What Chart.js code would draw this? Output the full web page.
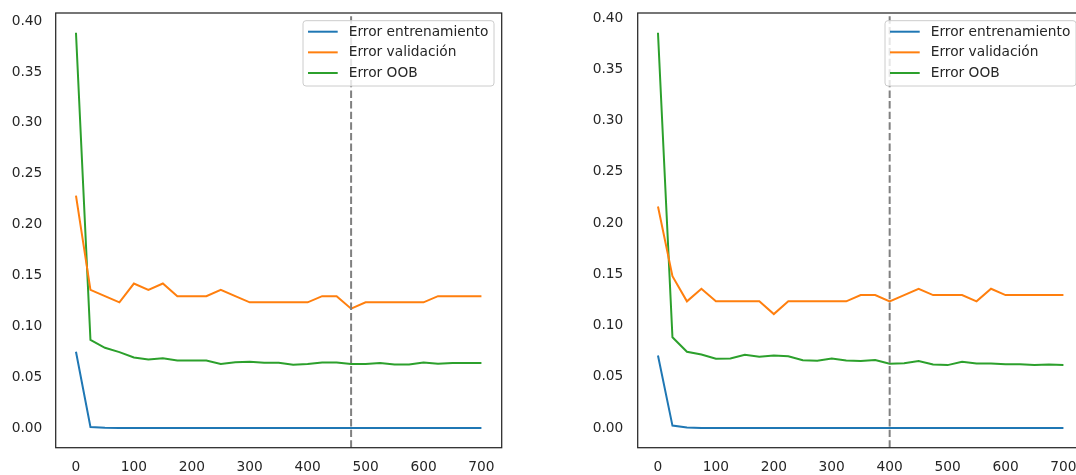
<!DOCTYPE html>
<html>
<head>
<meta charset="utf-8">
<script src="https://cdn.jsdelivr.net/npm/chart.js@4"></script>
<style>
  html, body { margin: 0; padding: 0; background: #fff; overflow: hidden; width: 1076px; height: 475px; }
  canvas { position: absolute; top: 0; }
  #chartLeft { left: 0; }
  #chartRight { left: 538px; }
</style>
</head>
<body>
<canvas id="chartLeft" width="538" height="475"></canvas>
<canvas id="chartRight" width="560" height="475"></canvas>
<script>
// numero de arboles
const nTrees = [0, 25, 50, 75, 100, 125, 150, 175, 200, 225, 250, 275, 300, 325, 350,
  375, 400, 425, 450, 475, 500, 525, 550, 575, 600, 625, 650, 675, 700];

const seriesNames = ['Error entrenamiento', 'Error validación', 'Error OOB'];

// grafico izquierdo
const trainLeft = [0.0749, 0.0010, 0.0003, 0, 0, 0, 0, 0, 0, 0, 0, 0, 0, 0, 0,
  0, 0, 0, 0, 0, 0, 0, 0, 0, 0, 0, 0, 0, 0];
const valLeft = [0.2284, 0.1358, 0.1296, 0.1235, 0.1420, 0.1358, 0.1420, 0.1296, 0.1296, 0.1296,
  0.1358, 0.1296, 0.1235, 0.1235, 0.1235, 0.1235, 0.1235, 0.1296, 0.1296, 0.1173,
  0.1235, 0.1235, 0.1235, 0.1235, 0.1235, 0.1296, 0.1296, 0.1296, 0.1296];
const oobLeft = [0.3886, 0.0867, 0.0788, 0.0746, 0.0693, 0.0672, 0.0685, 0.0664, 0.0664, 0.0664,
  0.0628, 0.0646, 0.0650, 0.0641, 0.0641, 0.0621, 0.0628, 0.0644, 0.0644, 0.0628,
  0.0628, 0.0638, 0.0625, 0.0625, 0.0644, 0.0631, 0.0638, 0.0638, 0.0638];
const cutLeft = 475;

// grafico derecho
const trainRight = [0.0707, 0.0023, 0.0005, 0, 0, 0, 0, 0, 0, 0, 0, 0, 0, 0, 0,
  0, 0, 0, 0, 0, 0, 0, 0, 0, 0, 0, 0, 0, 0];
const valRight = [0.2160, 0.1481, 0.1235, 0.1358, 0.1235, 0.1235, 0.1235, 0.1235, 0.1111, 0.1235,
  0.1235, 0.1235, 0.1235, 0.1235, 0.1296, 0.1296, 0.1235, 0.1296, 0.1358, 0.1296,
  0.1296, 0.1296, 0.1235, 0.1358, 0.1296, 0.1296, 0.1296, 0.1296, 0.1296];
const oobRight = [0.3856, 0.0885, 0.0743, 0.0717, 0.0675, 0.0678, 0.0714, 0.0695, 0.0707, 0.0700,
  0.0661, 0.0656, 0.0678, 0.0659, 0.0652, 0.0663, 0.0626, 0.0632, 0.0652, 0.0620,
  0.0613, 0.0646, 0.0628, 0.0628, 0.0621, 0.0621, 0.0615, 0.0618, 0.0615];
const cutRight = 400;

const xTicks = [0, 100, 200, 300, 400, 500, 600, 700];
const yTicks = [0, 0.05, 0.10, 0.15, 0.20, 0.25, 0.30, 0.35, 0.40];

const colors = ['#1f77b4', '#ff7f0e', '#2ca02c'];
const textColor = '#262626';
const font = { family: 'DejaVu Sans', size: 13.75 };

// marco, linea de corte y leyenda
const framePlugin = {
  id: 'frame',
  afterDatasetsDraw(chart) {
    const { ctx, chartArea: a, scales } = chart;
    const cx = scales.x.getPixelForValue(chart.options.plugins.frame.cut);
    ctx.save();
    ctx.strokeStyle = '#808080';
    ctx.lineWidth = 2;
    ctx.setLineDash([7.4, 3.2]);
    ctx.beginPath();
    ctx.moveTo(cx, a.bottom);
    ctx.lineTo(cx, a.top);
    ctx.stroke();
    ctx.restore();
  },
  afterDraw(chart) {
    const { ctx, chartArea: a } = chart;
    ctx.save();
    // leyenda
    ctx.font = font.size + 'px "DejaVu Sans"';
    const sets = chart.data.datasets;
    let tw = 0;
    sets.forEach(d => { tw = Math.max(tw, ctx.measureText(d.label).width); });
    const w = 45.7 + tw + 5.7;
    const h = 65.3;
    const left = a.right - 7.7 - w;
    const top = a.top + 7.7;
    ctx.beginPath();
    ctx.roundRect(left, top, w, h, 3);
    ctx.fillStyle = 'rgba(255,255,255,0.8)';
    ctx.fill();
    ctx.strokeStyle = '#cccccc';
    ctx.lineWidth = 1;
    ctx.stroke();
    sets.forEach((d, i) => {
      const y = top + 11 + i * 20.65;
      ctx.strokeStyle = d.borderColor;
      ctx.lineWidth = 2;
      ctx.beginPath();
      ctx.moveTo(left + 5, y);
      ctx.lineTo(left + 34.7, y);
      ctx.stroke();
      ctx.fillStyle = textColor;
      ctx.textBaseline = 'middle';
      ctx.textAlign = 'left';
      ctx.fillText(d.label, left + 45.7, y + 0.5);
    });
    // marco
    ctx.strokeStyle = textColor;
    ctx.lineWidth = 1.25;
    ctx.strokeRect(a.left, a.top, a.right - a.left, a.bottom - a.top);
    ctx.restore();
  }
};

function makeChart(id, train, val, oob, cut, yAxisWidth, padRight, yPad) {
  const all = train.concat(val, oob);
  const lo = Math.min(...all);
  const hi = Math.max(...all);
  const m = 0.05 * (hi - lo);
  const series = [train, val, oob];
  return new Chart(document.getElementById(id), {
    type: 'line',
    data: {
      labels: nTrees,
      datasets: series.map((s, i) => ({
        label: seriesNames[i],
        data: s.map((v, j) => ({ x: nTrees[j], y: v })),
        borderColor: colors[i],
        backgroundColor: colors[i],
        borderWidth: 2,
        pointRadius: 0,
        tension: 0,
        fill: false
      }))
    },
    options: {
      responsive: false,
      animation: false,
      layout: { padding: { top: 13, right: padRight, bottom: 0, left: 0 } },
      plugins: {
        legend: { display: false },
        tooltip: { enabled: false },
        frame: { cut: cut }
      },
      scales: {
        x: {
          type: 'linear',
          min: -35,
          max: 735,
          grid: { display: false, drawTicks: false },
          border: { display: false },
          afterBuildTicks: s => { s.ticks = xTicks.map(v => ({ value: v })); },
          afterFit: s => { s.height = 27.3; s.paddingLeft = 0; s.paddingRight = 0; },
          ticks: { font: font, color: textColor, padding: 11, maxRotation: 0, autoSkip: false }
        },
        y: {
          min: lo - m,
          max: hi + m,
          grid: { display: false, drawTicks: false },
          border: { display: false },
          afterBuildTicks: s => { s.ticks = yTicks.map(v => ({ value: v })); },
          afterFit: s => { s.width = yAxisWidth; s.paddingTop = 0; s.paddingBottom = 0; },
          ticks: {
            font: font,
            color: textColor,
            padding: yPad,
            callback: v => v.toFixed(2)
          }
        }
      }
    },
    plugins: [framePlugin]
  });
}

makeChart('chartLeft', trainLeft, valLeft, oobLeft, cutLeft, 55.7, 36.3, 13.4);
makeChart('chartRight', trainRight, valRight, oobRight, cutRight, 99.7, 14.3, 14.4);
</script>
</body>
</html>
